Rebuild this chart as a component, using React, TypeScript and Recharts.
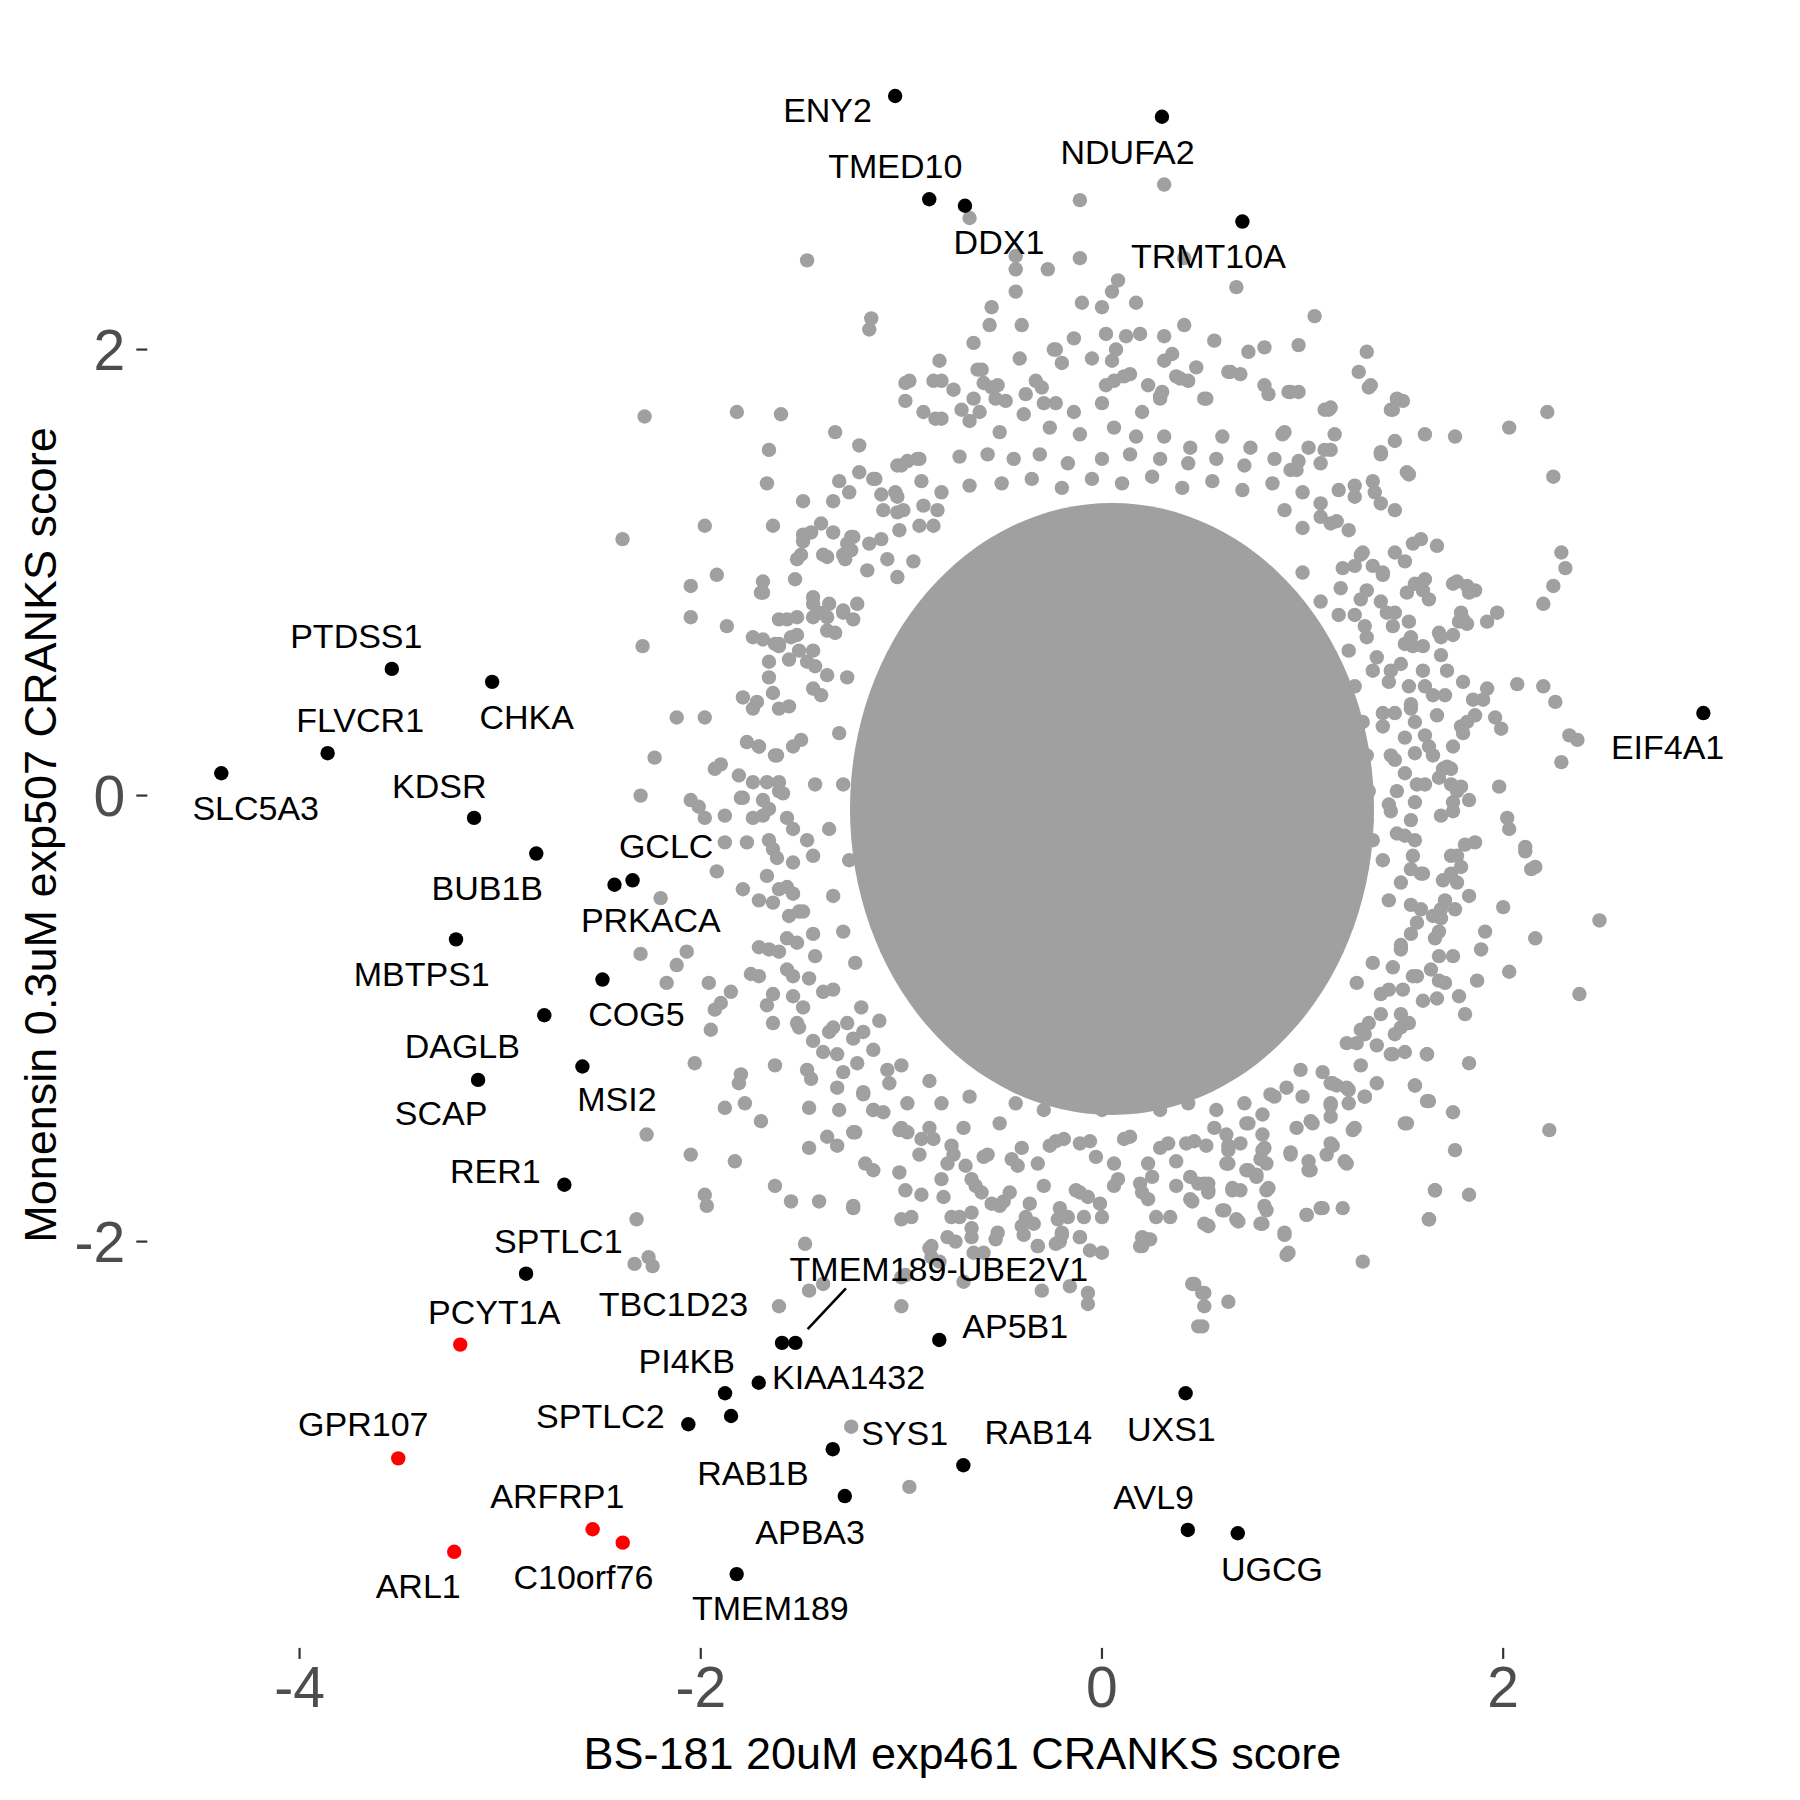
import React from 'react';
import { ScatterChart, Scatter, XAxis, YAxis } from 'recharts';

type Pt = [number, number];

// ---------------- axes ----------------
const xTicks = [-4, -2, 0, 2];
const yTicks = [-2, 0, 2];
const xDomain: [number, number] = [-4.759, 3.367];
const yDomain: [number, number] = [-3.822, 3.468];
const xTitle = 'BS-181 20uM exp461 CRANKS score';
const yTitle = 'Monensin 0.3uM exp507 CRANKS score';

// ---------------- background genes (grey) ----------------
// stand-in for the solid middle of the cloud, where thousands of points overlap completely
const cloudCentre: Pt[] = [[0.05, -0.06]];

const greyTop: Pt[] = [
  [-1.47, 2.4], [-0.66, 2.59], [-0.43, 2.42], [-0.43, 2.36], [-0.43, 2.26], [-0.27, 2.36], [-0.11, 2.67],
  [-0.11, 2.41], [0.31, 2.74], [0.67, 2.28], [0.41, 2.41], [0.08, 2.31], [0.05, 2.26], [0.0, 2.19],
  [0.17, 2.21], [-0.1, 2.21], [-1.15, 2.14], [-1.16, 2.09], [-0.55, 2.19], [-0.56, 2.11], [-0.4, 2.11],
  [-0.64, 2.03], [-0.41, 1.96], [-0.24, 2.0], [-0.2, 1.94], [-0.14, 2.05], [-0.05, 1.96], [0.02, 2.07],
  [0.12, 2.06], [0.19, 2.07], [0.31, 2.06], [0.41, 2.11], [0.35, 1.98], [0.31, 1.95], [0.56, 2.04],
  [0.73, 1.99], [0.81, 2.01], [0.98, 2.02], [1.06, 2.15], [1.32, 1.99], [1.28, 1.9], [1.34, 1.84],
  [-0.81, 1.95], [-0.62, 1.91], [-0.96, 1.86], [-0.84, 1.86], [-0.8, 1.86], [-0.74, 1.82], [-0.59, 1.85],
  [-0.55, 1.83], [-0.52, 1.84], [-0.33, 1.86], [-0.3, 1.83], [-0.38, 1.8], [-0.48, 1.77], [-0.53, 1.78],
  [0.02, 1.84], [0.06, 1.86], [0.14, 1.89], [0.23, 1.84], [0.3, 1.81], [0.29, 1.78], [0.52, 1.78],
  [0.81, 1.84], [0.83, 1.8], [0.93, 1.81], [0.98, 1.81], [1.11, 1.73], [1.14, 1.74], [1.44, 1.73],
  [1.47, 1.78], [0.64, 1.9], [0.69, 1.89], [0.47, 1.92], [0.39, 1.87], [0.43, 1.86], [0.05, 1.95],
  [0.07, 2.0], [-0.23, 2.0], [-0.6, 1.91], [-1.6, 1.71], [-1.66, 1.55], [-1.67, 1.4], [-1.33, 1.63],
  [-1.21, 1.57], [-2.28, 1.7], [-1.82, 1.72], [-1.49, 1.32], [-1.34, 1.32], [-1.26, 1.36], [-1.21, 1.45],
  [-1.31, 1.41], [-1.13, 1.42], [-1.02, 1.48], [-0.97, 1.5], [-0.92, 1.51], [-0.98, 1.77], [-0.89, 1.72],
  [-0.8, 1.69], [-0.64, 1.78], [-0.7, 1.73], [-0.61, 1.72], [-0.83, 1.69], [-0.66, 1.68], [-0.51, 1.63],
  [-0.39, 1.71], [-0.26, 1.65], [-0.11, 1.62], [0.06, 1.65], [0.17, 1.61], [0.31, 1.61], [0.44, 1.56],
  [0.6, 1.61], [0.74, 1.56], [0.9, 1.62], [1.03, 1.56], [1.16, 1.62], [1.39, 1.53], [1.46, 1.59],
  [-1.0, 1.48], [-0.91, 1.51], [-0.71, 1.52], [-0.57, 1.53], [-0.44, 1.51], [-0.31, 1.53], [-0.17, 1.49],
  [0.0, 1.51], [0.14, 1.53], [0.29, 1.51], [0.43, 1.49], [0.57, 1.51], [0.71, 1.48], [0.86, 1.51],
  [0.97, 1.46], [1.09, 1.49], [-0.29, 1.76], [-0.23, 1.76], [-0.14, 1.72], [0.0, 1.76], [0.11, 1.88],
  [0.2, 1.72], [0.29, 1.79], [0.37, 1.88], [0.51, 1.78], [0.63, 1.9], [0.94, 1.81], [1.13, 1.73],
  [1.33, 1.83], [-0.98, 1.85], [-1.14, 1.42], [-1.03, 1.36], [-0.9, 1.41], [-0.8, 1.36], [-0.66, 1.39],
  [-0.5, 1.4], [-0.35, 1.42], [-0.2, 1.38], [-0.05, 1.42], [0.1, 1.4], [0.25, 1.43], [0.4, 1.38],
  [0.55, 1.41], [0.7, 1.37], [0.85, 1.4], [1.0, 1.36], [1.09, 1.31], [1.17, 1.23], [1.23, 1.19], [1.29, 1.08],
];

const greyRight: Pt[] = [
  [2.03, 1.65], [2.22, 1.72], [2.25, 1.43], [1.76, 1.61], [1.61, 1.62], [1.52, 1.45], [1.45, 1.73],
  [1.5, 1.77], [0.91, 1.63], [1.11, 1.55], [1.14, 1.55], [1.39, 1.54], [1.53, 1.44], [1.39, 1.31],
  [1.36, 1.36], [1.35, 1.41], [1.46, 1.28], [1.26, 1.39], [1.26, 1.34], [1.18, 1.37], [0.98, 1.5],
  [0.94, 1.46], [1.55, 1.13], [1.59, 1.15], [1.67, 1.12], [1.46, 1.09], [2.29, 1.09], [2.31, 1.02],
  [2.25, 0.94], [2.2, 0.86], [1.75, 0.95], [1.82, 0.94], [1.86, 0.92], [1.61, 0.97], [1.6, 0.92],
  [1.52, 0.91], [1.79, 0.82], [1.78, 0.78], [1.82, 0.77], [1.97, 0.82], [1.92, 0.78], [1.75, 0.72],
  [1.68, 0.73], [1.69, 0.63], [1.55, 0.67], [1.6, 0.67], [1.45, 0.76], [1.72, 0.56], [2.07, 0.5],
  [2.2, 0.49], [2.26, 0.42], [1.92, 0.48], [1.9, 0.43], [1.85, 0.43], [2.33, 0.27], [2.37, 0.25],
  [2.29, 0.15], [1.96, 0.35], [1.99, 0.3], [1.79, 0.31], [1.82, 0.33], [1.75, 0.22], [1.67, 0.36],
  [1.98, 0.04], [1.79, 0.04], [1.83, -0.02], [1.75, -0.03], [1.75, -0.07], [2.02, -0.1], [2.03, -0.15],
  [1.81, -0.22], [2.11, -0.23], [1.7, 0.12], [1.74, 0.12],
  [0.91, 1.28], [1.0, 1.2], [1.09, 1.25], [1.14, 1.22], [1.3, 1.09], [1.26, 1.03], [1.35, 1.03],
  [1.4, 1.0], [1.32, 0.92], [1.39, 0.87], [1.42, 0.82], [1.53, 0.78], [1.54, 0.71], [1.49, 0.59],
  [1.44, 0.56], [1.53, 0.49], [1.61, 0.49], [1.65, 0.45], [1.54, 0.41], [1.46, 0.37], [1.56, 0.33],
  [1.61, 0.27], [1.51, 0.26], [1.44, 0.18], [1.56, 0.19], [1.65, 0.18], [1.51, 0.1], [1.61, 0.05],
  [1.47, 0.02], [1.56, -0.03], [1.44, -0.07], [1.54, -0.11], [1.47, -0.17], [1.35, -0.2], [1.56, -0.2],
  [1.4, 0.37], [1.35, 0.56], [1.32, 0.71], [1.18, 0.81], [1.09, 0.87], [1.0, 1.0], [1.19, 0.93],
  [1.26, 0.81], [1.23, 0.65], [1.26, 0.49], [1.3, 0.33], [1.32, 0.18], [1.33, 0.02], [1.32, -0.11],
  [1.68, 0.08], [1.72, 0.13], [1.37, 0.62], [1.51, 0.68], [1.69, 0.71], [1.31, 0.76], [1.46, 0.82],
  [1.29, 0.88], [1.63, 0.88], [1.4, 0.99], [1.77, 0.96], [1.83, 0.91], [1.2, 1.02], [1.51, 1.05],
  [1.8, 0.79], [1.8, 0.51], [1.86, 0.36], [1.77, 0.02], [1.86, -0.21], [1.74, -0.35], [1.69, -0.55],
  [1.71, -0.84], [1.6, -0.92], [1.51, -1.15], [1.37, -1.29], [1.23, -1.38], [1.31, -1.07], [1.43, -0.04],
  [1.57, 0.05], [1.74, 0.05], [1.46, 0.16], [1.63, 0.22], [1.8, 0.28], [1.4, 0.31], [1.54, 0.39],
  [1.71, 0.45], [1.43, 0.51], [1.6, 0.56], [1.37, -1.12], [1.49, -1.04], [1.43, -0.87], [1.57, -0.81],
  [1.66, -0.64], [1.49, -0.67], [1.54, -0.49], [1.71, -0.47], [1.43, -0.47], [1.6, -0.35], [1.77, -0.27],
  [1.4, -0.29], [1.51, -0.18], [1.69, -0.09], [1.56, 0.95],
  [1.74, -0.27], [1.79, -0.32], [2.11, -0.25], [2.14, -0.33], [2.16, -0.32], [1.7, -0.38], [1.77, -0.39],
  [1.83, -0.45], [2.0, -0.5], [1.76, -0.51], [2.48, -0.56], [1.91, -0.61], [1.89, -0.69], [2.16, -0.64],
  [1.68, -0.72], [1.75, -0.72], [2.03, -0.79], [1.87, -0.83], [1.67, -0.91], [1.78, -0.9], [2.38, -0.89],
  [1.81, -0.98], [1.49, -0.98], [1.53, -1.02], [1.46, -1.07], [1.45, -1.16], [1.62, -1.16], [1.83, -1.2],
  [1.56, -1.3], [1.63, -1.37], [1.75, -1.42], [1.52, -1.47], [2.23, -1.5], [1.26, -1.49], [1.31, -1.35],
  [1.23, -1.32], [1.17, -1.3], [1.14, -1.39], [1.05, -1.47], [1.76, -1.59], [1.15, -1.57], [1.12, -1.61],
  [1.22, -1.65], [1.04, -1.68], [0.94, -1.61], [0.81, -1.58], [0.79, -1.63], [1.66, -1.77], [1.83, -1.79],
  [1.63, -1.9], [1.3, -2.09], [1.2, -1.85], [1.1, -1.85], [1.02, -1.88], [0.91, -1.96], [0.93, -2.05],
  [0.82, -1.86], [0.8, -1.92], [0.68, -1.91], [0.53, -1.93], [0.61, -1.86], [0.65, -1.76], [0.83, -1.76],
  [0.72, -1.68], [0.77, -1.7], [0.63, -1.65], [0.53, -1.74], [0.53, -1.78], [0.51, -2.23], [0.63, -2.27],
  [0.5, -2.38], [1.52, -1.02], [1.5, -0.87], [1.39, -0.98], [1.33, -1.02], [1.27, -1.11], [1.22, -1.11],
  [1.29, -1.05], [1.15, -1.29], [1.1, -1.24], [0.99, -1.23], [0.92, -1.31], [0.84, -1.34], [0.8, -1.43],
  [0.72, -1.47], [0.62, -1.52], [0.56, -1.49], [1.35, -0.75], [1.45, -0.77], [1.55, -0.81], [1.64, -0.78],
  [1.68, -0.83], [1.27, -0.84], [1.39, -0.89], [1.49, -0.69], [1.54, -0.62], [1.57, -0.57], [1.65, -0.54],
  [1.68, -0.61], [1.59, -0.51], [1.49, -0.39], [1.54, -0.33], [1.59, -0.35], [1.55, -0.27], [1.69, -0.51],
];

const greyBottom: Pt[] = [
  [-0.91, -1.61], [-0.74, -1.61], [-0.57, -1.61], [-0.4, -1.58], [-0.23, -1.55], [-0.06, -1.55],
  [0.11, -1.54], [0.29, -1.58], [0.46, -1.55], [0.63, -1.57], [0.8, -1.52], [0.97, -1.49], [1.14, -1.44],
  [-0.63, -1.75], [-0.46, -1.78], [-0.29, -1.75], [-0.11, -1.78], [0.06, -1.75], [0.2, -1.78],
  [0.37, -1.75], [0.51, -1.74], [0.69, -1.77], [-0.71, -1.89], [-0.51, -1.84], [-0.34, -1.92],
  [-0.17, -1.89], [0.0, -1.89], [-0.06, -2.04], [-0.23, -2.01], [0.2, -1.98], [0.34, -1.89], [0.51, -1.92],
  [-1.0, -1.21], [-1.06, -1.29], [-0.86, -1.28], [-1.14, -1.41], [-0.97, -1.38], [-1.31, -1.41],
  [-0.8, -1.38], [-0.66, -1.35], [-1.0, -1.49], [-0.86, -1.49], [-0.69, -1.49], [-0.51, -1.47],
  [-0.43, -1.38], [-0.29, -1.41], [-0.14, -1.38], [0.0, -1.41], [0.14, -1.38], [0.29, -1.41],
  [0.43, -1.38], [0.57, -1.41], [0.71, -1.38], [0.86, -1.35], [1.0, -1.35], [1.14, -1.29], [1.29, -1.21],
  [-0.77, -1.98], [-0.73, -2.0], [-0.65, -1.98], [-0.53, -1.99], [-0.39, -1.97], [-0.86, -2.03],
  [-0.85, -2.07], [-0.64, -2.05], [-0.59, -2.05], [-0.32, -2.02], [-0.21, -2.0], [-0.11, -1.98],
  [-0.3, -2.22], [-0.16, -2.2], [-0.07, -2.23], [-0.07, -2.28], [0.0, -2.05], [0.2, -2.02], [0.24, -1.99],
  [0.45, -2.19], [0.5, -2.23], [0.92, -2.06], [0.91, -1.97], [1.03, -1.64], [0.81, -1.84], [0.45, -1.82],
  [0.51, -2.29], [-0.2, -1.97], [-0.81, -2.09], [-1.24, -1.85], [-1.41, -1.82], [-1.63, -1.75],
  [-1.55, -1.82], [-1.48, -2.01],
  [-1.01, -1.69], [-0.98, -1.77], [-0.9, -1.79], [-1.0, -1.9], [-0.95, -1.89], [-0.79, -1.8], [-0.75, -1.89],
  [-0.65, -1.94], [-0.65, -1.87], [-0.6, -1.78], [-0.55, -1.83], [-0.49, -1.82], [-0.52, -1.96],
  [-0.36, -1.83], [-0.38, -1.89], [-0.4, -1.93], [-0.32, -2.02], [-0.21, -1.85], [-0.22, -1.9],
  [-0.2, -1.96], [-0.13, -1.77], [-0.07, -1.8], [-0.09, -1.89], [-0.11, -1.98], [-0.01, -1.83],
  [0.08, -1.72], [0.19, -1.74], [0.23, -1.81], [0.27, -1.89], [0.23, -1.99], [0.19, -2.02], [0.23, -1.65],
  [0.25, -1.71], [0.37, -1.64], [0.44, -1.71], [0.48, -1.74], [0.53, -1.77], [0.44, -1.81], [0.53, -1.93],
  [0.6, -1.86], [0.67, -1.9], [0.65, -1.77], [0.62, -1.65], [0.73, -1.68], [0.77, -1.71], [0.82, -1.77],
  [0.79, -1.92], [0.94, -1.6], [1.03, -1.68], [1.02, -1.88], [1.09, -1.85], [1.14, -1.56], [1.21, -1.64],
  [1.04, -1.46], [1.14, -1.38], [1.25, -1.5], [1.51, -1.47], [1.62, -1.37], [1.56, -1.3], [1.62, -1.16],
  [1.44, -1.16], [1.66, -1.77], [1.63, -1.9], [1.31, -1.35], [1.22, -1.31], [0.46, -2.19], [0.48, -2.38],
  [-0.98, -2.15], [-1.18, -1.65], [-1.14, -1.68], [-1.23, -1.51], [-1.19, -1.34], [-1.24, -1.84],
  [-1.07, -1.23], [-0.85, -2.02], [-0.8, -1.72], [-0.77, -1.65], [-0.68, -1.66], [-0.65, -1.72],
  [-0.75, -1.57], [-1.01, -1.5], [-0.97, -1.51], [-0.9, -1.54], [-0.84, -1.54], [-1.14, -1.41],
  [-1.09, -1.42], [-0.32, -1.65], [-0.26, -1.57], [-0.19, -1.54], [-0.45, -1.63], [-0.42, -1.66],
  [-0.59, -1.62], [-0.11, -1.56], [-0.03, -1.62], [0.06, -1.65], [0.14, -1.53], [0.33, -1.56],
  [0.42, -1.56], [0.52, -1.57], [0.63, -1.59], [0.69, -1.56], [0.8, -1.59], [0.82, -1.65], [0.73, -1.47],
];

const greyLeft: Pt[] = [
  [-2.39, 1.15], [-1.98, 1.21], [-1.64, 1.21], [-1.49, 1.17], [-1.45, 1.18], [-1.49, 1.14], [-1.34, 1.18],
  [-1.25, 1.16], [-1.27, 1.13], [-1.25, 1.1], [-1.28, 1.06], [-1.52, 1.06], [-1.37, 1.07], [-1.53, 0.97],
  [-1.92, 0.99], [-2.05, 0.94], [-1.69, 0.96], [-1.69, 0.91], [-2.05, 0.8], [-1.87, 0.76], [-1.74, 0.71],
  [-2.29, 0.67], [-1.61, 0.79], [-1.52, 0.8], [-1.44, 0.86], [-1.36, 0.86], [-1.55, 0.71], [-1.61, 0.67],
  [-1.66, 0.6], [-1.56, 0.61], [-1.44, 0.65], [-1.37, 0.8], [-1.29, 0.83], [-1.24, 0.79], [-1.16, 1.13],
  [-1.1, 1.15], [-1.07, 1.06], [-1.17, 1.01], [-1.02, 0.98], [-0.94, 1.05], [-1.09, 1.28], [-1.02, 1.27],
  [-0.99, 1.28], [-0.89, 1.3], [-0.82, 1.28], [-1.01, 1.19], [-0.91, 1.21], [-0.84, 1.21], [-1.1, 1.35],
  [-1.02, 1.34],
  [-2.12, 0.35], [-1.98, 0.35], [-2.23, 0.17], [-2.3, 0.0], [-2.05, -0.02], [-2.01, -0.05], [-1.98, -0.1],
  [-1.93, 0.12], [-1.9, 0.14], [-1.81, 0.09], [-1.88, -0.09], [-1.88, -0.21], [-1.77, -0.21], [-1.92, -0.34],
  [-1.79, -0.42], [-2.2, -0.46], [-2.3, -0.71], [-2.07, -0.7], [-2.12, -0.76], [-2.17, -0.84], [-1.96, -0.84],
  [-1.85, -0.88], [-1.9, -0.93], [-1.93, -0.96], [-1.95, -1.05], [-2.03, -1.2], [-1.8, -1.25], [-1.63, -1.21],
  [-1.75, -0.8], [-1.88, -1.4], [-1.78, -1.38], [-1.7, -1.46], [-2.27, -1.52], [-2.05, -1.61], [-1.98, -1.79],
  [-1.97, -1.84], [-1.46, -1.58], [-1.37, -1.53], [-1.32, -1.57], [-1.24, -1.51], [-1.46, -1.4],
  [-1.32, -1.31], [-1.19, -1.33], [-1.47, -1.23], [-1.45, -1.27], [-1.83, -1.64], [-1.81, -1.29],
  [-2.32, -1.9], [-2.33, -2.1], [-2.26, -2.07], [-2.24, -2.11], [-1.61, -2.29], [-1.46, -2.22],
  [-1.25, -2.83], [-0.96, -3.1], [-1.0, -2.29], [-0.69, -2.18], [-1.39, -2.19], [-1.0, -2.16],
  [-1.79, 0.44], [-1.72, 0.42], [-1.64, 0.46], [-1.61, 0.39], [-1.56, 0.4], [-1.77, 0.24], [-1.71, 0.22],
  [-1.62, 0.18], [-1.54, 0.22], [-1.74, 0.06], [-1.67, 0.06], [-1.61, 0.06], [-1.79, -0.01], [-1.69, -0.02],
  [-1.59, 0.01], [-1.74, -0.1], [-1.66, -0.06], [-1.57, -0.1], [-1.66, -0.2], [-1.62, -0.28], [-1.54, -0.3],
  [-1.47, -0.2], [-1.67, -0.36], [-1.61, -0.42], [-1.54, -0.44], [-1.64, -0.48], [-1.56, -0.54],
  [-1.51, -0.52], [-1.71, -0.68], [-1.61, -0.7], [-1.52, -0.66], [-1.44, -0.62], [-1.57, -0.78],
  [-1.46, -0.82], [-1.39, -0.88], [-1.54, -0.9], [-1.67, -0.94], [-1.64, -1.02], [-1.52, -1.02],
  [-1.44, -1.1], [-1.36, -1.06], [-1.27, -1.02], [-1.32, -1.16], [-1.22, -1.2], [-1.19, -1.06],
  [-1.69, 0.7], [-1.61, 0.68], [-1.52, 0.72], [-1.44, 0.8], [-1.37, 0.74], [-1.47, 0.6], [-1.37, 0.54],
  [-1.44, 0.48], [-1.29, 0.82], [-1.22, 0.86], [-1.7, 0.91], [-1.4, 1.22], [-1.24, 1.16], [-1.29, 1.08],
  [-1.39, 1.08], [-1.5, 1.08], [-1.44, 0.89], [-1.57, 0.79], [-1.41, 0.82], [-1.63, 0.68], [-1.51, 0.65],
  [-1.33, 0.73], [-1.43, 0.58], [-1.27, 0.53], [-1.66, 0.53], [-1.74, 0.39], [-1.4, 0.45], [-1.71, 0.22],
  [-1.5, 0.25], [-1.31, 0.28], [-1.63, 0.18], [-1.43, 0.05], [-1.29, 0.05], [-1.61, 0.02], [-1.8, -0.01],
  [-1.69, -0.09], [-1.54, -0.15], [-1.36, -0.15], [-1.64, -0.24], [-1.44, -0.27], [-1.26, -0.29],
  [-1.57, -0.41], [-1.34, -0.45], [-1.71, -0.47], [-1.49, -0.52], [-1.29, -0.61], [-1.57, -0.64],
  [-1.66, -0.69], [-1.43, -0.72], [-1.23, -0.75], [-1.54, -0.81], [-1.71, -0.81], [-1.34, -0.87],
  [-1.64, -0.89], [-1.49, -0.95], [-1.2, -0.95], [-1.34, -1.04], [-1.51, -1.04], [-1.24, -1.09],
  [-1.11, -1.01], [-1.39, -1.15], [-1.14, -1.14], [-1.29, -1.24],
];

// ---------------- labelled genes ----------------
const hitGenes = [
  'ENY2', 'NDUFA2', 'TMED10', 'DDX1', 'TRMT10A', 'PTDSS1', 'CHKA', 'FLVCR1', 'SLC5A3', 'KDSR',
  'BUB1B', 'GCLC', 'PRKACA', 'MBTPS1', 'COG5', 'DAGLB', 'MSI2', 'SCAP', 'RER1', 'SPTLC1',
  'PCYT1A', 'TBC1D23', 'TMEM189-UBE2V1', 'AP5B1', 'PI4KB', 'KIAA1432', 'RAB1B', 'SPTLC2', 'GPR107', 'UXS1',
  'SYS1', 'RAB14', 'APBA3', 'AVL9', 'UGCG', 'ARFRP1', 'C10orf76', 'ARL1', 'TMEM189', 'EIF4A1',
];
const hitX = [
  -1.031, 0.299, -0.861, -0.683, 0.7, -3.54, -3.04, -3.86, -4.39, -3.13,
  -2.82, -2.34, -2.43, -3.22, -2.49, -2.78, -2.59, -3.11, -2.68, -2.871,
  -3.199, -1.595, -1.528, -0.811, -1.879, -1.711, -1.849, -2.062, -3.508, 0.417,
  -1.342, -0.691, -1.282, 0.428, 0.677, -2.539, -2.389, -3.229, -1.821, 2.998,
];
const hitY = [
  3.137, 3.044, 2.674, 2.645, 2.574, 0.568, 0.51, 0.19, 0.1, -0.1,
  -0.26, -0.38, -0.4, -0.645, -0.825, -0.985, -1.215, -1.275, -1.745, -2.144,
  -2.462, -2.454, -2.454, -2.441, -2.68, -2.633, -2.782, -2.819, -2.972, -2.68,
  -2.931, -3.003, -3.141, -3.293, -3.308, -3.29, -3.35, -3.391, -3.491, 0.37,
];
const redGenes = ['PCYT1A', 'GPR107', 'ARFRP1', 'C10orf76', 'ARL1'];

// ---------------- layout (pixels, label centre relative to its point) ----------------
const labelNudge: Record<string, [number, number]> = {
  ENY2: [-67.6, 14], NDUFA2: [-34.4, 35], TMED10: [-34, -33.3], DDX1: [34, 36], TRMT10A: [-34, 35],
  PTDSS1: [-35.5, -32.5], CHKA: [34.5, 34.8], FLVCR1: [32.5, -33.6], SLC5A3: [34.4, 34.8], KDSR: [-34.8, -31.8],
  BUB1B: [-49, 34.8], GCLC: [33.6, -33.8], PRKACA: [36.3, 35.3], MBTPS1: [-34.3, 34.8], COG5: [34, 34.4],
  DAGLB: [-82, 30.6], MSI2: [34.5, 33], SCAP: [-37, 32.8], RER1: [-69, -14], SPTLC1: [32.3, -33],
  PCYT1A: [34, -33], TBC1D23: [-108.6, -38.7], 'TMEM189-UBE2V1': [143.4, -73.7], AP5B1: [76, -14],
  PI4KB: [-38.3, -32.6], KIAA1432: [89.8, -6], RAB1B: [21.9, 56.7], SPTLC2: [-88, -7.7], GPR107: [-35, -34.3],
  UXS1: [-14.3, 36], SYS1: [71.9, -16.6], RAB14: [75, -33.6], APBA3: [-34.7, 35.7], AVL9: [-34.2, -33.3],
  UGCG: [34.2, 36], ARFRP1: [-35.3, -32.7], C10orf76: [-39.3, 34.7], ARL1: [-36, 34], TMEM189: [33.7, 33.7],
  EIF4A1: [-35.8, 34.4],
};
const segmentNudge: Record<string, [number, number, number, number]> = {
  'TMEM189-UBE2V1': [12.2, -13.7, 50.5, -54.4],
};

const FONT = '"Liberation Sans", Arial, Helvetica, sans-serif';
const GREY = '#A0A0A0';
const R = 7.2;

const toRows = (pts: Pt[]) => pts.map(([x, y]) => ({ x, y }));
const greyRows = [...toRows(greyTop), ...toRows(greyRight), ...toRows(greyBottom), ...toRows(greyLeft)];
const hitRows = hitGenes.map((g, i) => ({ x: hitX[i], y: hitY[i], gene: g }));
const blackRows = hitRows.filter((r) => !redGenes.includes(r.gene));
const redRows = hitRows.filter((r) => redGenes.includes(r.gene));

const dot = (fill: string, r: number) => (p: any) =>
  p.cx == null ? <g /> : <circle cx={p.cx} cy={p.cy} r={r} fill={fill} />;

const centreShape = (p: any) =>
  p.cx == null ? <g /> : <ellipse cx={p.cx} cy={p.cy} rx={262} ry={306} fill={GREY} />;

const labelShape = (p: any) => {
  if (p.cx == null) return <g />;
  const gene: string = p.payload.gene;
  const [dx, dy] = labelNudge[gene] || [0, -30];
  const seg = segmentNudge[gene];
  return (
    <g>
      {seg && (
        <line x1={p.cx + seg[0]} y1={p.cy + seg[1]} x2={p.cx + seg[2]} y2={p.cy + seg[3]}
          stroke="#000" strokeWidth={2.6} />
      )}
      <text x={p.cx + dx} y={p.cy + dy} dy="0.35em" textAnchor="middle" fontFamily={FONT}
        fontSize={34} fill="#000">{gene}</text>
    </g>
  );
};

const XTick = (p: any) => (
  <text x={p.x} y={p.y} dy="0.71em" textAnchor="middle" fontFamily={FONT} fontSize={57} fill="#4D4D4D">
    {String(p.payload.value)}
  </text>
);
const YTick = (p: any) => (
  <text x={p.x} y={p.y} dy="0.355em" textAnchor="end" fontFamily={FONT} fontSize={57} fill="#4D4D4D">
    {String(p.payload.value)}
  </text>
);

const XTitle = (p: any) => {
  const vb = p.viewBox || { x: 147.3, y: 1647.9, width: 1630.1, height: 152.1 };
  return (
    <text x={vb.x + vb.width / 2} y={vb.y + 105} dy="0.35em" textAnchor="middle" fontFamily={FONT}
      fontSize={45} fill="#000">{xTitle}</text>
  );
};
const YTitle = (p: any) => {
  const vb = p.viewBox || { x: 0, y: 22.2, width: 147.3, height: 1625.7 };
  const cx = vb.x + 40;
  const cy = vb.y + vb.height / 2;
  return (
    <text x={cx} y={cy} dy="0.35em" textAnchor="middle" fontFamily={FONT} fontSize={45} fill="#000"
      transform={`rotate(-90 ${cx} ${cy})`}>{yTitle}</text>
  );
};

export default function App() {
  return (
    <div style={{ position: 'absolute', left: 0, top: 0, width: 1800, height: 1800, background: '#fff' }}>
      <ScatterChart width={1800} height={1800} margin={{ top: 22.2, right: 22.6, bottom: 0, left: 0 }}>
        <XAxis type="number" dataKey="x" domain={xDomain} ticks={xTicks} allowDataOverflow interval={0}
          axisLine={false} tickLine={{ stroke: '#333333', strokeWidth: 2.2 }} tickSize={11} tickMargin={8}
          height={152.1} tick={<XTick />} label={<XTitle />} />
        <YAxis type="number" dataKey="y" domain={yDomain} ticks={yTicks} allowDataOverflow interval={0}
          axisLine={false} tickLine={{ stroke: '#333333', strokeWidth: 2.2 }} tickSize={11} tickMargin={11}
          width={147.3} tick={<YTick />} label={<YTitle />} />
        <Scatter data={toRows(cloudCentre)} shape={centreShape} isAnimationActive={false} />
        <Scatter data={greyRows} shape={dot(GREY, R)} isAnimationActive={false} />
        <Scatter data={blackRows} shape={dot('#000000', R)} isAnimationActive={false} />
        <Scatter data={redRows} shape={dot('#FF0000', R)} isAnimationActive={false} />
        <Scatter data={hitRows} shape={labelShape} isAnimationActive={false} />
      </ScatterChart>
    </div>
  );
}
